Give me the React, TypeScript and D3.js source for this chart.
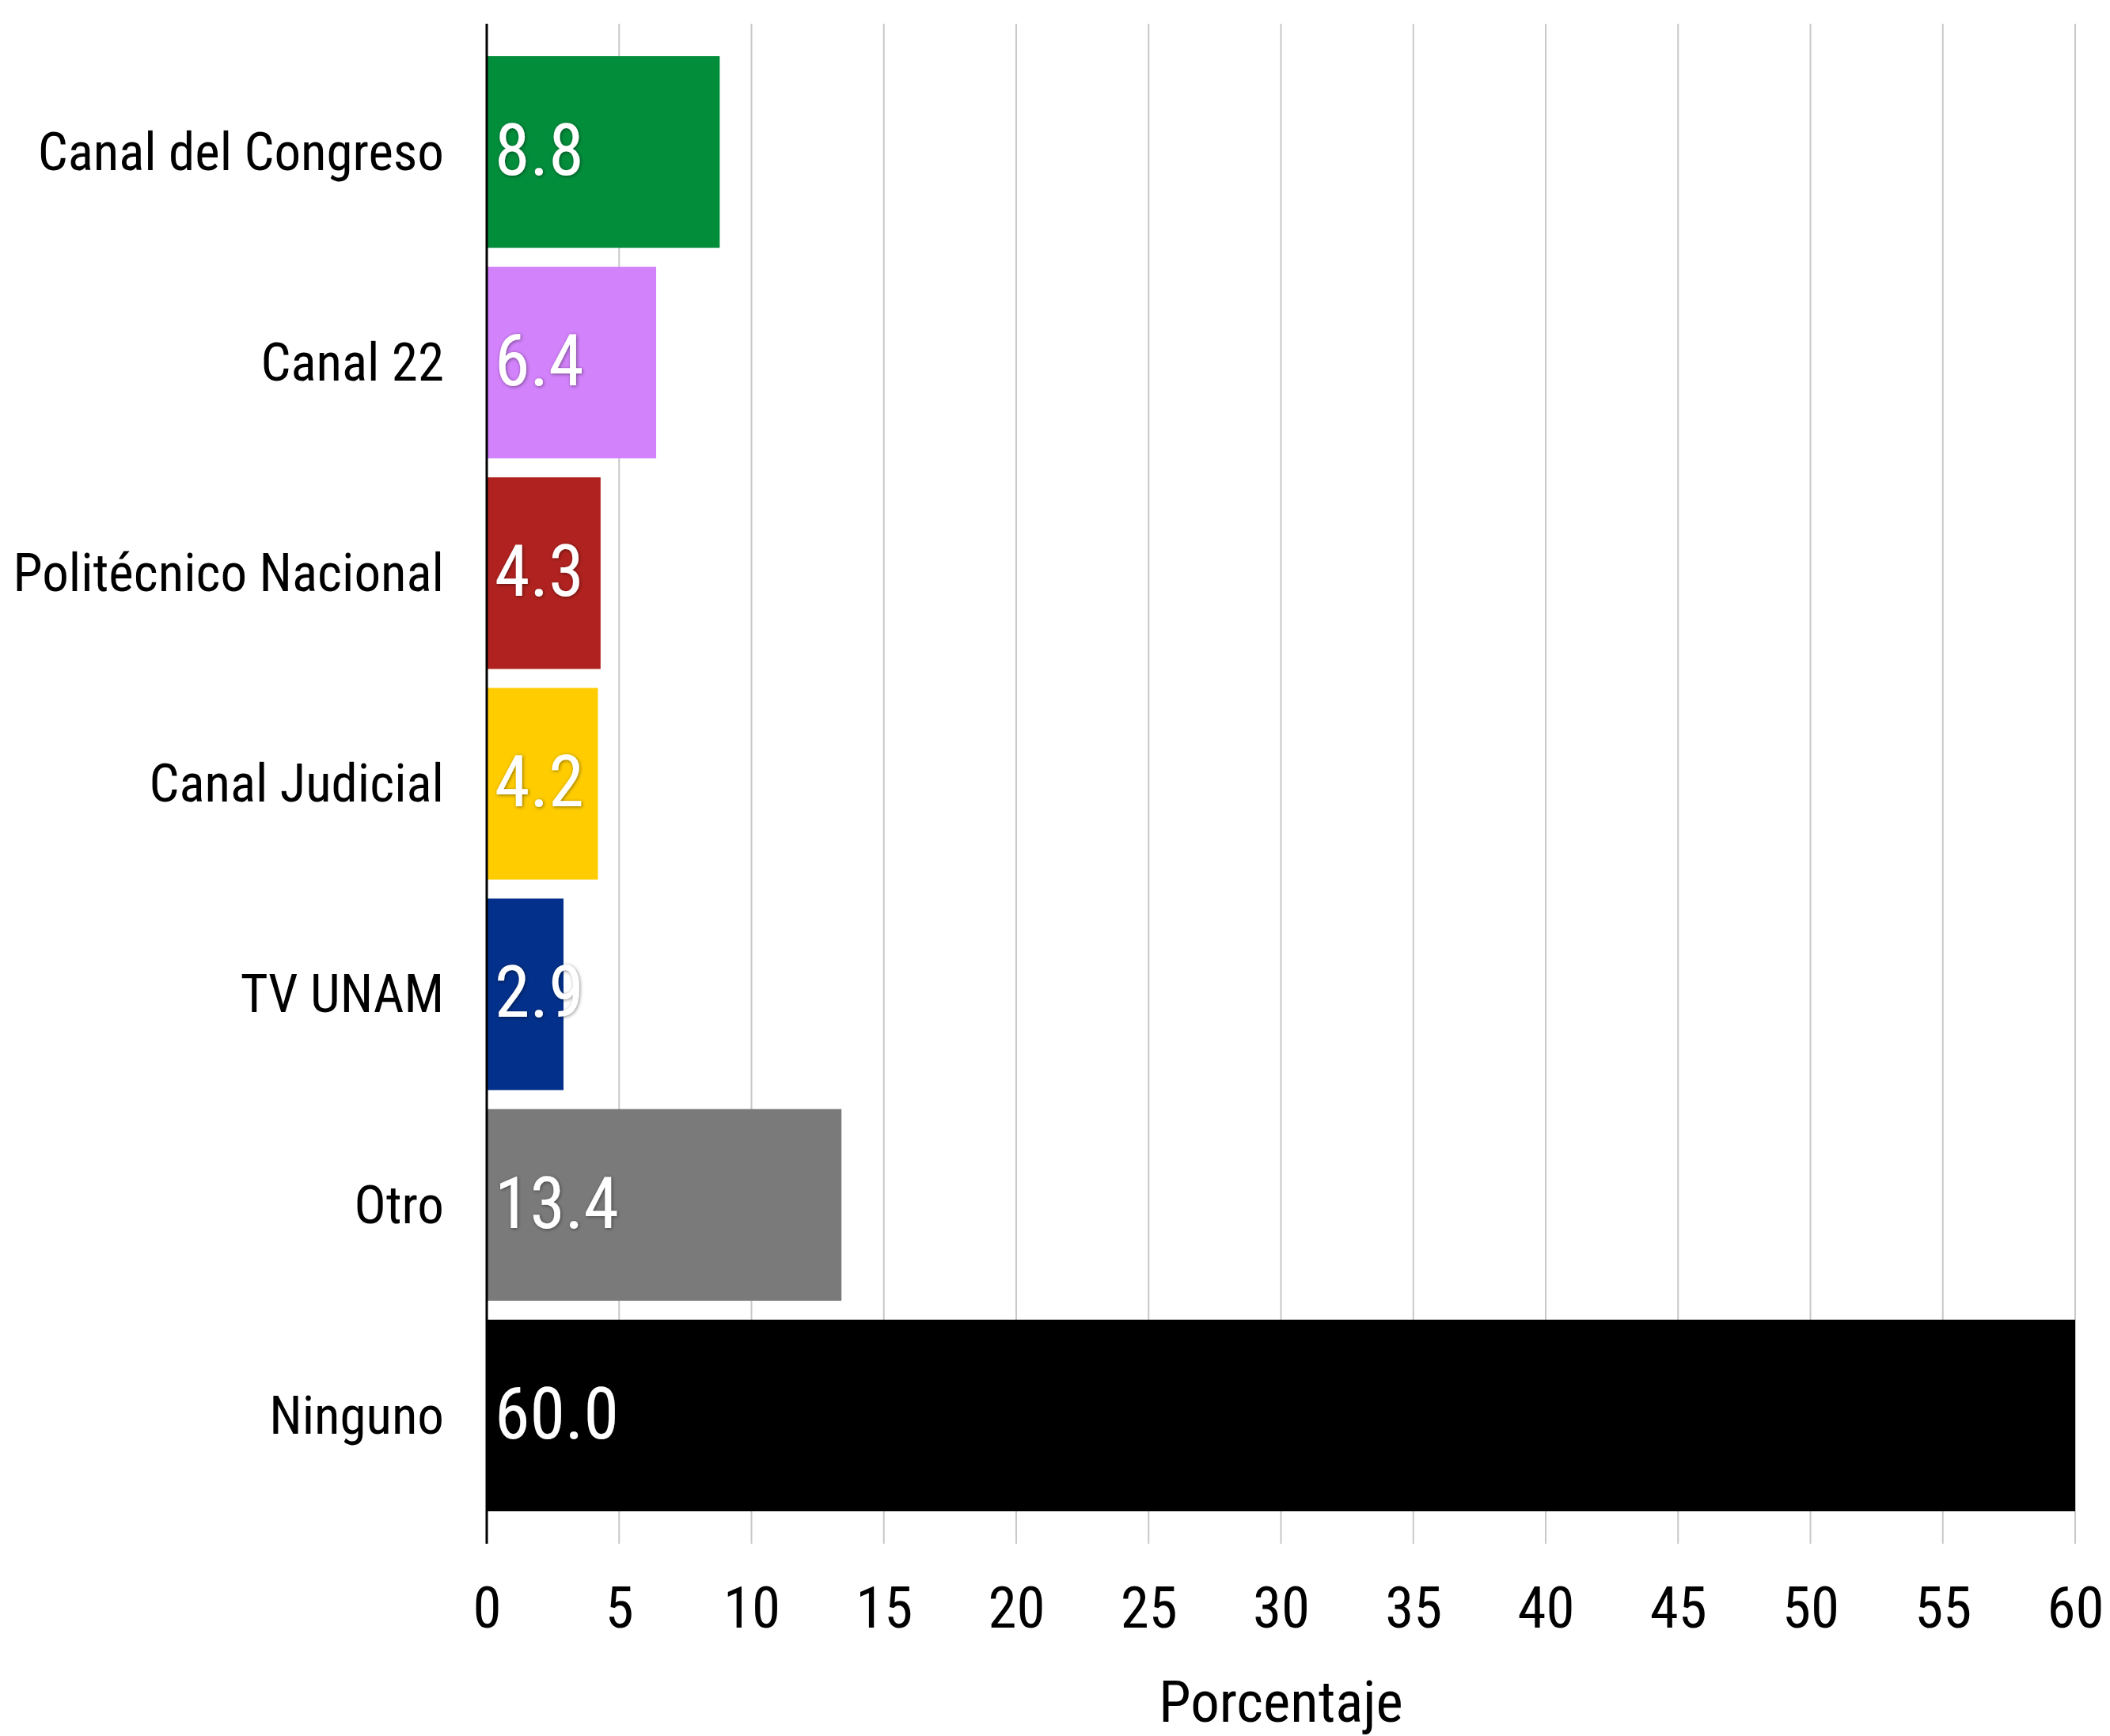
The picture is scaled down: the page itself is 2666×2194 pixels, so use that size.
import { useEffect, useRef } from 'react'
import * as d3 from 'd3'

const categories = [
  'Canal del Congreso',
  'Canal 22',
  'Politécnico Nacional',
  'Canal Judicial',
  'TV UNAM',
  'Otro',
  'Ninguno',
]
const values = [8.8, 6.4, 4.3, 4.2, 2.9, 13.4, 60.0]
const barColors = ['#028d3b', '#d282fa', '#b0221f', '#ffcc00', '#03308a', '#7a7a7a', '#000000']
const xTicks = [0, 5, 10, 15, 20, 25, 30, 35, 40, 45, 50, 55, 60]
const xTitle = 'Porcentaje'

const W = 2666
const H = 2194
const FONT = "'Roboto Condensed', 'Liberation Sans Narrow', 'DejaVu Sans Condensed', Roboto, sans-serif"

export default function App() {
  const svgRef = useRef<SVGSVGElement>(null)

  useEffect(() => {
    if (!svgRef.current) return
    const svg = d3.select(svgRef.current)
    svg.selectAll('*').remove()

    const margin = { top: 30, right: 44, bottom: 243, left: 615 }
    const width = W - margin.left - margin.right
    const height = H - margin.top - margin.bottom

    const g = svg.append('g').attr('transform', `translate(${margin.left},${margin.top})`)

    const x = d3.scaleLinear().domain([0, 60]).range([0, width])
    const y = d3
      .scaleBand()
      .domain(categories)
      .range([0, height])
      .paddingInner(0.09)
      .paddingOuter(0.154)

    // vertical grid
    g.selectAll('.grid')
      .data(xTicks.filter((t) => t > 0))
      .enter()
      .append('line')
      .attr('x1', (d) => x(d))
      .attr('x2', (d) => x(d))
      .attr('y1', 0)
      .attr('y2', height)
      .attr('stroke', '#c8c8c8')
      .attr('stroke-width', 2)

    const rows = categories.map((c, i) => ({ c, v: values[i], color: barColors[i] }))

    g.selectAll('.bar')
      .data(rows)
      .enter()
      .append('rect')
      .attr('x', 0)
      .attr('y', (d) => y(d.c) ?? 0)
      .attr('width', (d) => x(d.v))
      .attr('height', y.bandwidth())
      .attr('fill', (d) => d.color)

    // axis line
    g.append('line')
      .attr('x1', 0)
      .attr('x2', 0)
      .attr('y1', 0)
      .attr('y2', height)
      .attr('stroke', '#000')
      .attr('stroke-width', 3)

    const defs = svg.append('defs')
    defs
      .append('filter')
      .attr('id', 'shadow')
      .append('feDropShadow')
      .attr('dx', 1)
      .attr('dy', 1)
      .attr('stdDeviation', 2)
      .attr('flood-color', '#000')
      .attr('flood-opacity', 0.45)

    g.selectAll('.val')
      .data(rows)
      .enter()
      .append('text')
      .attr('x', 10)
      .attr('y', (d) => (y(d.c) ?? 0) + y.bandwidth() / 2)
      .attr('dy', '0.32em')
      .attr('fill', '#fff')
      .attr('font-family', FONT)
      .attr('font-size', 90)
      .attr('filter', 'url(#shadow)')
      .text((d) => d.v.toFixed(1))

    g.selectAll('.cat')
      .data(rows)
      .enter()
      .append('text')
      .attr('x', -54)
      .attr('y', (d) => (y(d.c) ?? 0) + y.bandwidth() / 2)
      .attr('dy', '0.34em')
      .attr('text-anchor', 'end')
      .attr('fill', '#000')
      .attr('font-family', FONT)
      .attr('font-size', 67)
      .text((d) => d.c)

    g.append('g')
      .attr('transform', `translate(0,${height})`)
      .call(d3.axisBottom(x).tickValues(xTicks).tickSize(0).tickPadding(0))
      .call((axis) => {
        axis.select('.domain').remove()
        axis
          .selectAll('text')
          .attr('fill', '#000')
          .attr('font-family', FONT)
          .attr('font-size', 73)
          .attr('dy', 0)
          .attr('y', 106)
      })

    g.append('text')
      .attr('x', width / 2)
      .attr('y', height + 225)
      .attr('text-anchor', 'middle')
      .attr('fill', '#000')
      .attr('font-family', FONT)
      .attr('font-size', 73)
      .text(xTitle)
  }, [])

  return (
    <div style={{ position: 'absolute', left: 0, top: 0, background: '#fff' }}>
      <svg ref={svgRef} width={W} height={H} style={{ display: 'block' }} />
    </div>
  )
}
